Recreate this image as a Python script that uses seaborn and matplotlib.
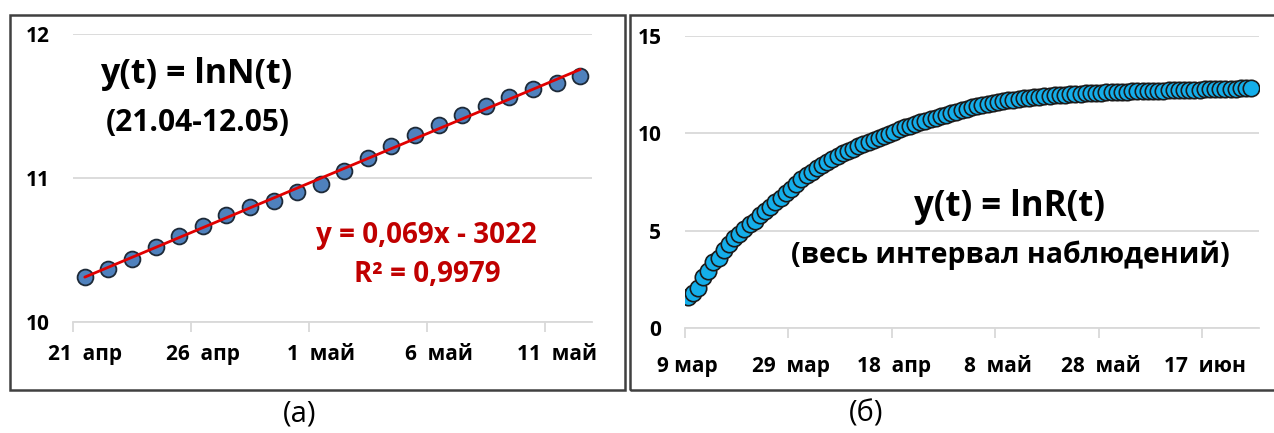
import matplotlib
matplotlib.use('Agg')
import matplotlib.pyplot as plt
import seaborn as sns
import numpy as np
import pandas as pd
from matplotlib.patches import Rectangle

# ---------------- data ----------------
left_start = '2020-04-21'
left_values = [10.31, 10.37, 10.44, 10.52, 10.60, 10.67, 10.74, 10.80, 10.84,
               10.90, 10.96, 11.05, 11.14, 11.22, 11.30, 11.37, 11.44, 11.50,
               11.56, 11.62, 11.66, 11.71]
left_tick_days = [0, 5, 10, 15, 20]
left_tick_labels = ['21  апр', '26  апр', '1  май', '6  май', '11  май']
left_yticks = [10, 11, 12]

right_start = '2020-03-09'
right_values = [1.61, 1.79, 2.08, 2.64, 2.94, 3.40, 3.61, 4.03, 4.33, 4.62,
                4.85, 5.08, 5.33, 5.52, 5.78, 5.99, 6.21, 6.45, 6.66, 6.91,
                7.15, 7.40, 7.63, 7.85, 8.02, 8.20, 8.36, 8.53, 8.70, 8.83,
                8.98, 9.10, 9.22, 9.33, 9.45, 9.55, 9.65, 9.76, 9.87, 9.98,
                10.09, 10.20, 10.30, 10.39, 10.48, 10.57, 10.65, 10.73, 10.81, 10.88,
                10.96, 11.03, 11.12, 11.19, 11.26, 11.33, 11.39, 11.45, 11.51, 11.56,
                11.61, 11.65, 11.69, 11.73, 11.76, 11.80, 11.83, 11.86, 11.88, 11.91,
                11.93, 11.95, 11.97, 11.99, 12.01, 12.02, 12.04, 12.05, 12.07, 12.08,
                12.09, 12.10, 12.11, 12.12, 12.13, 12.14, 12.15, 12.16, 12.17, 12.18,
                12.18, 12.19, 12.20, 12.21, 12.22, 12.22, 12.23, 12.24, 12.25, 12.25,
                12.26, 12.27, 12.27, 12.28, 12.29, 12.29, 12.30, 12.31, 12.31, 12.33]
right_tick_days = [0, 20, 40, 60, 80, 100]
right_tick_labels = ['9 мар', '29  мар', '18  апр', '8  май', '28  май', '17  июн']
right_yticks = [0, 5, 10, 15]

left_title = 'y(t) = lnN(t)'
left_sub = '(21.04-12.05)'
eq_text = 'y = 0,069x - 3022'
r2_text = 'R² = 0,9979'
right_title = 'y(t) = lnR(t)'
right_sub = '(весь интервал наблюдений)'

# ---------------- frames ----------------
dfL = pd.DataFrame({'date': pd.date_range(left_start, periods=len(left_values)),
                    'value': left_values})
dfL['day'] = (dfL['date'] - dfL['date'].iloc[0]).dt.days + 0.5
dfR = pd.DataFrame({'date': pd.date_range(right_start, periods=len(right_values)),
                    'value': right_values})
dfR['day'] = (dfR['date'] - dfR['date'].iloc[0]).dt.days + 0.5

sns.set_theme(style='white')
plt.rcParams['font.family'] = ['Open Sans', 'DejaVu Sans']

W, H = 1274, 433
fig = plt.figure(figsize=(W / 100, H / 100), dpi=100)


def rect(x0, yt, x1, yb):
    return [x0 / W, 1 - yb / H, (x1 - x0) / W, (yb - yt) / H]


ax1 = fig.add_axes(rect(73, 34, 592, 322))
ax2 = fig.add_axes(rect(685, 36, 1259, 328))

grid_c = '#D9D9D9'

# left panel
sns.scatterplot(data=dfL, x='day', y='value', ax=ax1, s=130, color='#4F81BD',
                edgecolor='#1e2a38', linewidth=1.3, zorder=3)
sns.regplot(data=dfL, x='day', y='value', ax=ax1, scatter=False, ci=None,
            truncate=True, line_kws=dict(color='#E00000', lw=2.0, zorder=4))
ax1.set_xlim(0, len(left_values))
ax1.set_ylim(10, 12)
ax1.set_yticks(left_yticks)

# right panel
sns.scatterplot(data=dfR, x='day', y='value', ax=ax2, s=140, color='#14AEEA',
                edgecolor='#1a1a1a', linewidth=1.2, zorder=3)
ax2.set_xlim(0, len(right_values) + 1)
ax2.set_ylim(0, 15)
ax2.set_yticks(right_yticks)

for ax, tdays, tlabels in ((ax1, left_tick_days, left_tick_labels),
                           (ax2, right_tick_days, right_tick_labels)):
    # labels centred on the day, tick marks at the day boundary (Excel date axis)
    ax.set_xticks([d + 0.5 for d in tdays])
    ax.set_xticklabels(tlabels)
    ax.set_xticks(tdays, minor=True)
    ax.set_xlabel('')
    ax.set_ylabel('')
    for s in ('top', 'left', 'right'):
        ax.spines[s].set_visible(False)
    ax.spines['bottom'].set_color(grid_c)
    ax.spines['bottom'].set_linewidth(1.3)
    ax.yaxis.grid(True, color=grid_c, lw=1.3, zorder=0)
    ax.xaxis.grid(False)
    ax.set_axisbelow(True)
    ax.tick_params(axis='x', which='major', length=0, pad=16, labelsize=15)
    ax.tick_params(axis='x', which='minor', direction='out', length=7, width=1.3,
                   color=grid_c, bottom=True)
    ax.tick_params(axis='y', length=0, pad=17, labelsize=15)
    for lab in ax.get_xticklabels() + ax.get_yticklabels():
        lab.set_fontweight('bold')
        lab.set_color('black')
    ax.set_facecolor('none')

# right-panel labels sit slightly lower
ax2.tick_params(axis='x', which='major', pad=20)

# annotations
fig.text(196 / W, 1 - 74 / H, left_title, ha='center', va='center',
         fontsize=24.5, weight='bold', color='black')
fig.text(198 / W, 1 - 123 / H, left_sub, ha='center', va='center',
         fontsize=21.5, weight='bold', color='black')
fig.text(426 / W, 1 - 236 / H, eq_text, ha='center', va='center',
         fontsize=20, weight='bold', color='#C00000')
fig.text(427 / W, 1 - 274 / H, r2_text, ha='center', va='center',
         fontsize=20, weight='bold', color='#C00000')
fig.text(1010 / W, 1 - 207 / H, right_title, ha='center', va='center',
         fontsize=25, weight='bold', color='black')
fig.text(1010 / W, 1 - 255 / H, right_sub, ha='center', va='center',
         fontsize=20.5, weight='bold', color='black')
fig.text(300 / W, 1 - 414 / H, '(a)', ha='center', va='center',
         fontsize=21, color='black')
fig.text(866 / W, 1 - 414 / H, '(б)', ha='center', va='center',
         fontsize=21, color='black')

# panel frames
fig.add_artist(Rectangle((10 / W, 1 - 390 / H), 615 / W, 375 / H,
                         transform=fig.transFigure, fill=False,
                         edgecolor='#404040', lw=1.8))
fig.add_artist(Rectangle((630 / W, 1 - 390 / H), 660 / W, 375 / H,
                         transform=fig.transFigure, fill=False,
                         edgecolor='#404040', lw=1.8))

fig.savefig('out.png', dpi=100, facecolor='white')
